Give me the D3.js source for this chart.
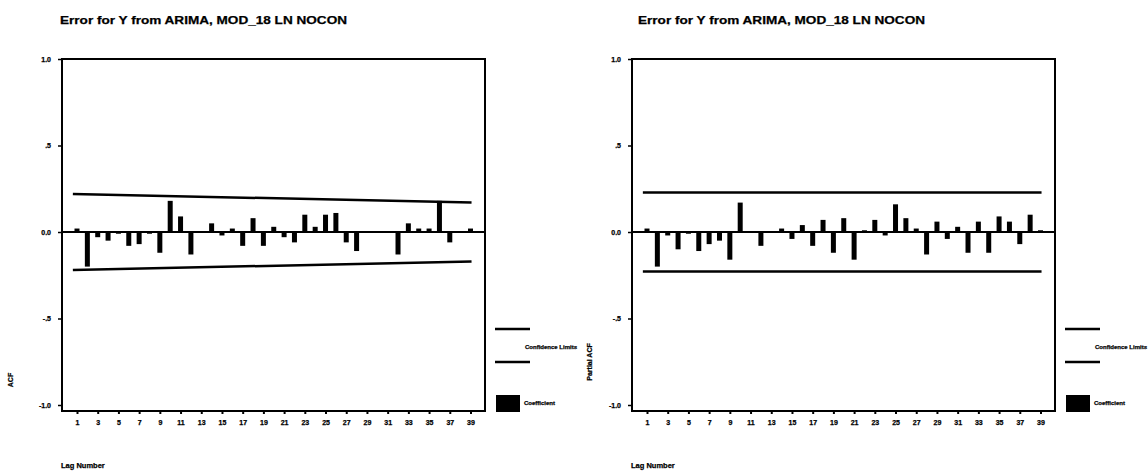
<!DOCTYPE html>
<html>
<head>
<meta charset="utf-8">
<script src="https://cdn.jsdelivr.net/npm/d3@7"></script>
<style>
  html, body { margin: 0; padding: 0; background: #fff; }
  svg { display: block; font-family: "Liberation Sans", Arial, sans-serif; }
</style>
</head>
<body>
<svg id="chart" width="1148" height="474"></svg>
<script>
// Residual autocorrelations for the ARIMA model, lags 1..39
const lags = d3.range(1, 40);

const acfValues = [
   0.02, -0.20, -0.03, -0.05, -0.01, -0.08, -0.07, -0.01, -0.12,  0.18,
   0.09, -0.13,  0.00,  0.05, -0.02,  0.02, -0.08,  0.08, -0.08,  0.03,
  -0.03, -0.06,  0.10,  0.03,  0.10,  0.11, -0.06, -0.11,  0.00,  0.00,
   0.00, -0.13,  0.05,  0.02,  0.02,  0.18, -0.06,  0.00,  0.02
];

const pacfValues = [
   0.02, -0.20, -0.02, -0.10, -0.01, -0.11, -0.07, -0.05, -0.16,  0.17,
   0.00, -0.08,  0.00,  0.02, -0.04,  0.04, -0.08,  0.07, -0.12,  0.08,
  -0.16,  0.01,  0.07, -0.02,  0.16,  0.08,  0.02, -0.13,  0.06, -0.04,
   0.03, -0.12,  0.06, -0.12,  0.09,  0.06, -0.07,  0.10,  0.01
];

// Confidence limits at the first and last lag
const limitLags = [0.6, 39.1];
const acfLimits = [0.22, 0.17];
const pacfLimits = [0.228, 0.228];

const yTickValues = [1, 0.5, 0, -0.5, -1];
const yTickLabels = ["1.0", ".5", "0.0", "-.5", "-1.0"];
const xTickValues = d3.range(1, 40, 2);

const titleText = "Error for Y from ARIMA, MOD_18 LN NOCON";
const xTitle = "Lag Number";
const legendLimits = "Confidence Limits";
const legendCoef = "Coefficient";

const svg = d3.select("#chart");

const panels = [
  { left: 62,  right: 485, values: acfValues,  limits: acfLimits,  yTitle: "ACF",         yTitleX: 13,  yTitleY: 380, titleX: 60 },
  { left: 632, right: 1055, values: pacfValues, limits: pacfLimits, yTitle: "Partial ACF", yTitleX: 592, yTitleY: 362, titleX: 638 }
];

const frameTop = 59, frameBottom = 411;
const y = d3.scaleLinear().domain([-1, 1]).range([405, 59]);

// printed text is slightly heavy
function ink(sel, size) {
  sel.attr("font-size", size).attr("font-weight", "bold")
    .attr("font-family", "Liberation Sans, Arial, sans-serif")
    .attr("fill", "#000").attr("stroke", "#000").attr("stroke-width", 0.25);
}

panels.forEach(p => {
  const g = svg.append("g");
  const x = d3.scaleLinear().domain([1, 39]).range([p.left + 15, p.right - 14.5]);

  // title
  g.append("text")
    .attr("x", p.titleX).attr("y", 24)
    .attr("textLength", 287).attr("lengthAdjust", "spacingAndGlyphs")
    .text(titleText)
    .call(ink, 11);

  // frame
  g.append("rect")
    .attr("x", p.left).attr("y", frameTop)
    .attr("width", p.right - p.left).attr("height", frameBottom - frameTop)
    .attr("fill", "none").attr("stroke", "#000").attr("stroke-width", 2);

  // y axis ticks and labels
  const yAxis = d3.axisLeft(y)
    .tickValues(yTickValues)
    .tickSize(4)
    .tickPadding(7)
    .tickFormat((d, i) => yTickLabels[i]);
  const ya = g.append("g").attr("transform", `translate(${p.left},0)`).call(yAxis);
  ya.select(".domain").remove();
  ya.selectAll("line").attr("stroke", "#000").attr("stroke-width", 1.5);
  ya.selectAll("text").call(ink, 7);

  // x axis ticks and labels
  const xAxis = d3.axisBottom(x)
    .tickValues(xTickValues)
    .tickSize(3)
    .tickPadding(6)
    .tickFormat(d3.format("d"));
  const xa = g.append("g").attr("transform", `translate(0,${frameBottom})`).call(xAxis);
  xa.select(".domain").remove();
  xa.selectAll("line").attr("stroke", "#000").attr("stroke-width", 2);
  xa.selectAll("text").call(ink, 7);

  // zero line
  g.append("line")
    .attr("x1", p.left).attr("x2", p.right)
    .attr("y1", y(0)).attr("y2", y(0))
    .attr("stroke", "#000").attr("stroke-width", 2);

  // bars
  g.selectAll("rect.bar").data(p.values).join("rect")
    .attr("class", "bar")
    .attr("x", (d, i) => x(lags[i]) - 2.5)
    .attr("width", 5)
    .attr("y", d => y(Math.max(0, d)))
    .attr("height", d => Math.abs(y(d) - y(0)))
    .attr("fill", "#000");

  // confidence limits
  const lim = d3.scaleLinear().domain(limitLags).range(p.limits);
  [1, -1].forEach(s => {
    g.append("line")
      .attr("x1", x(limitLags[0])).attr("x2", x(limitLags[1]))
      .attr("y1", y(s * lim(limitLags[0]))).attr("y2", y(s * lim(limitLags[1])))
      .attr("stroke", "#000").attr("stroke-width", 2.5);
  });

  // axis titles
  g.append("text")
    .attr("transform", `translate(${p.yTitleX},${p.yTitleY}) rotate(-90)`)
    .attr("text-anchor", "middle")
    .text(p.yTitle)
    .call(ink, 7);

  g.append("text")
    .attr("x", p.left - 1).attr("y", 468)
    .text(xTitle)
    .call(ink, 7.5);

  // legend
  const lx = p.right + 10;
  g.append("line").attr("x1", lx).attr("x2", lx + 35).attr("y1", 329).attr("y2", 329)
    .attr("stroke", "#000").attr("stroke-width", 2.5);
  g.append("line").attr("x1", lx).attr("x2", lx + 35).attr("y1", 362).attr("y2", 362)
    .attr("stroke", "#000").attr("stroke-width", 2.5);
  g.append("text").attr("x", lx + 30).attr("y", 349)
    .text(legendLimits).call(ink, 6);
  g.append("rect").attr("x", lx + 1).attr("y", 395).attr("width", 24).attr("height", 17)
    .attr("fill", "#000");
  g.append("text").attr("x", lx + 29).attr("y", 405)
    .text(legendCoef).call(ink, 6);
});
</script>
</body>
</html>
